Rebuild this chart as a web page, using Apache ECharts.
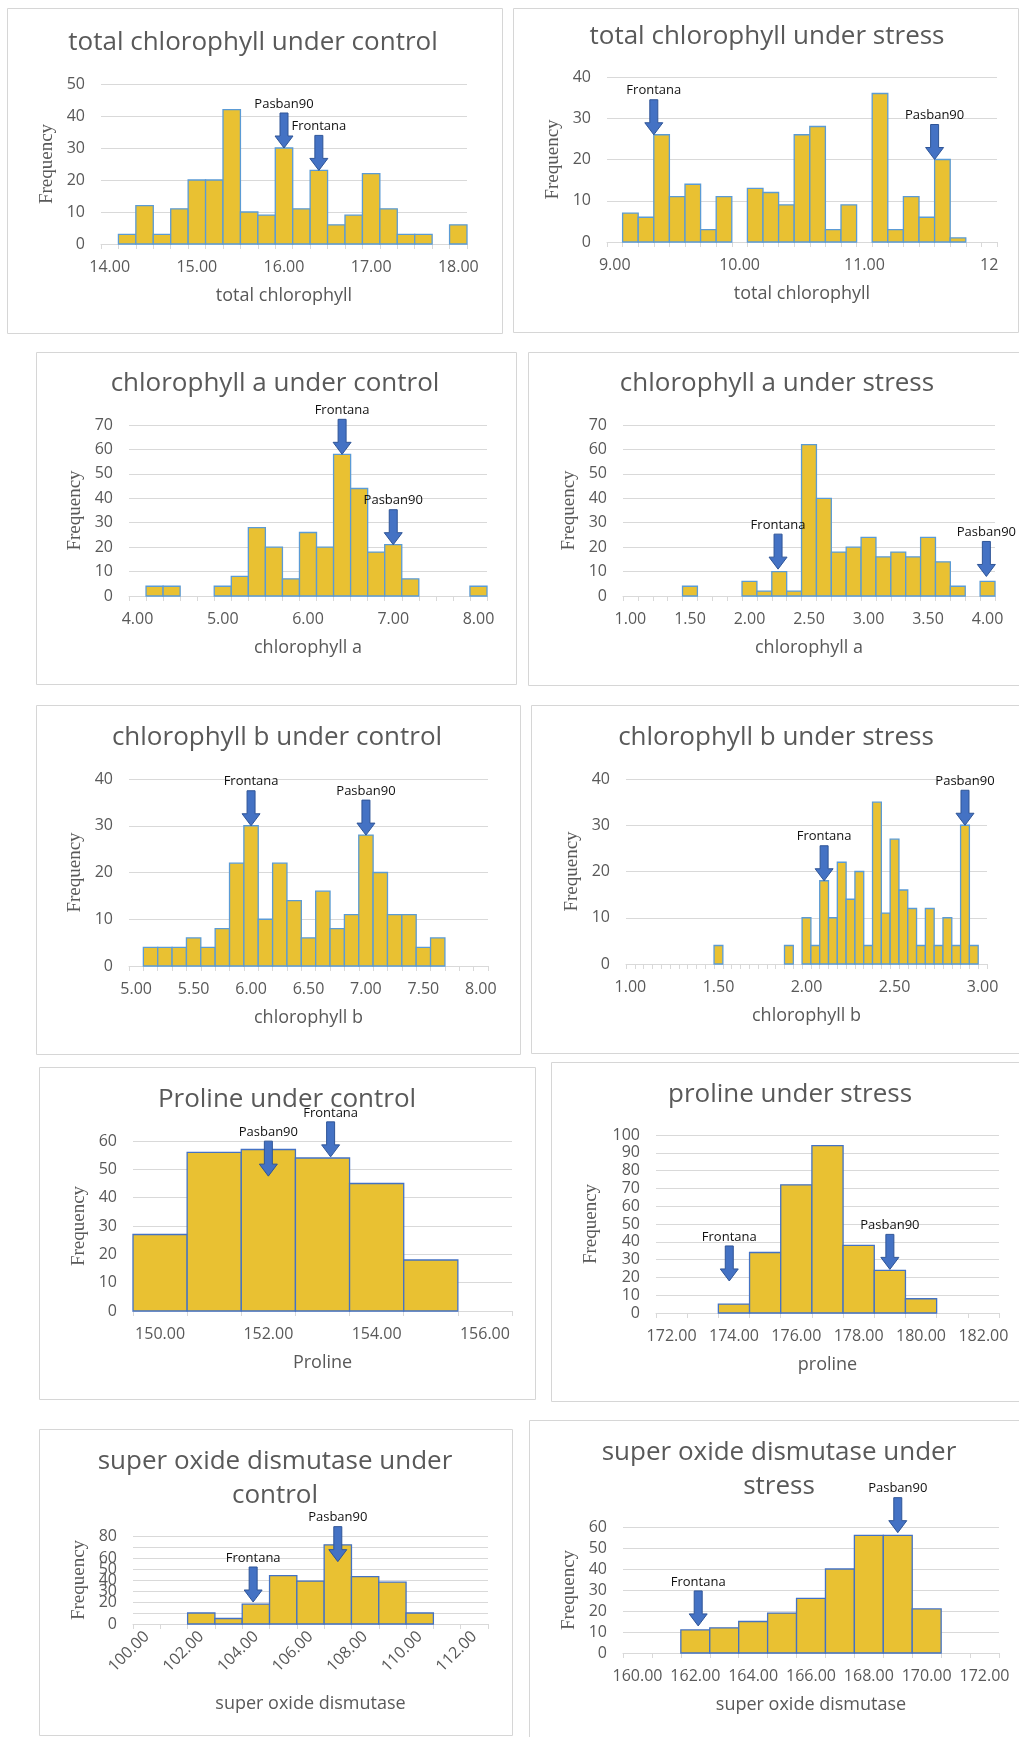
<!DOCTYPE html>
<html>
<head>
<meta charset="utf-8">
<script src="https://cdn.jsdelivr.net/npm/echarts@6/dist/echarts.min.js"></script>
<style>
  html, body { margin: 0; padding: 0; background: #fff; }
  #chart { width: 1019px; height: 1737px; }
</style>
</head>
<body>
<div id="chart"></div>
<script>
// ---- data: histogram counts per bin ----
const tcControlCounts = [3, 12, 3, 11, 20, 20, 42, 10, 9, 30, 11, 23, 6, 9, 22, 11, 3, 3, 0, 6];
const tcControlTicks = ['14.00', '15.00', '16.00', '17.00', '18.00'];
const tcControlMarks = [['Pasban90', 16.0, 30], ['Frontana', 16.4, 23]];

const tcStressCounts = [7, 6, 26, 11, 14, 3, 11, 0, 13, 12, 9, 26, 28, 3, 9, 0, 36, 3, 11, 6, 20, 1];
const tcStressTicks = ['9.00', '10.00', '11.00', '12'];
const tcStressMarks = [['Frontana', 9.3125, 26], ['Pasban90', 11.5625, 20]];

const caControlCounts = [4, 4, 0, 0, 4, 8, 28, 20, 7, 26, 20, 58, 44, 18, 21, 7, 0, 0, 0, 4];
const caControlTicks = ['4.00', '5.00', '6.00', '7.00', '8.00'];
const caControlMarks = [['Frontana', 6.4, 58], ['Pasban90', 7.0, 21]];

const caStressCounts = [0, 0, 0, 4, 0, 0, 0, 6, 2, 10, 2, 62, 40, 18, 20, 24, 16, 18, 16, 24, 14, 4, 0, 6];
const caStressTicks = ['1.00', '1.50', '2.00', '2.50', '3.00', '3.50', '4.00'];
const caStressMarks = [['Frontana', 2.24, 11], ['Pasban90', 3.99, 8]];

const cbControlCounts = [4, 4, 4, 6, 4, 8, 22, 30, 10, 22, 14, 6, 16, 8, 11, 28, 20, 11, 11, 4, 6];
const cbControlTicks = ['5.00', '5.50', '6.00', '6.50', '7.00', '7.50', '8.00'];
const cbControlMarks = [['Frontana', 6.0, 30], ['Pasban90', 7.0, 28]];

const cbStressCounts = [4, 0, 0, 0, 0, 0, 0, 0, 4, 0, 10, 4, 18, 10, 22, 14, 20, 4, 35, 11, 27, 16, 12, 4, 12, 4, 10, 4, 30, 4];
const cbStressTicks = ['1.00', '1.50', '2.00', '2.50', '3.00'];
const cbStressMarks = [['Frontana', 2.1, 18], ['Pasban90', 2.9, 30]];

const prControlCounts = [27, 56, 57, 54, 45, 18];
const prControlTicks = ['150.00', '152.00', '154.00', '156.00'];
const prControlMarks = [['Pasban90', 152.0, 47.6], ['Frontana', 153.15, 54.4]];

const prStressCounts = [5, 34, 72, 94, 38, 24, 8];
const prStressTicks = ['172.00', '174.00', '176.00', '178.00', '180.00', '182.00'];
const prStressMarks = [['Frontana', 173.85, 18], ['Pasban90', 179.0, 24.5]];

const sodControlCounts = [10, 5, 18, 44, 39, 72, 43, 38, 10];
const sodControlTicks = ['100.00', '102.00', '104.00', '106.00', '108.00', '110.00', '112.00'];
const sodControlMarks = [['Frontana', 103.9, 20], ['Pasban90', 107.0, 56.7]];

const sodStressCounts = [11, 12, 15, 19, 26, 40, 56, 56, 21];
const sodStressTicks = ['160.00', '162.00', '164.00', '166.00', '168.00', '170.00', '172.00'];
const sodStressMarks = [['Frontana', 162.1, 12.9], ['Pasban90', 169.0, 57.3]];

// ---- panel layout (page pixels) ----
const LIGHT = '#5B9BD5', DARK = '#4472C4';
const panels = [
  { title: ['total chlorophyll under control'], tc: [253, 43], box: [7, 8, 502, 333], grid: [101, 84, 467, 244],
    xMin: 13.9, xMax: 18.1, binStart: 14.1, binWidth: 0.2, yMax: 50, counts: tcControlCounts, ticks: tcControlTicks,
    marks: tcControlMarks, xName: 'total chlorophyll', edge: LIGHT },
  { title: ['total chlorophyll under stress'], tc: [767, 37], box: [513, 8, 1018, 332], grid: [607, 77, 997, 242],
    xMin: 8.9375, xMax: 12.0625, binStart: 9.0625, binWidth: 0.125, yMax: 40, counts: tcStressCounts, ticks: tcStressTicks,
    marks: tcStressMarks, xName: 'total chlorophyll', edge: LIGHT },
  { title: ['chlorophyll a under control'], tc: [275, 384], box: [36, 352, 516, 684], grid: [129, 425, 487, 596],
    xMin: 3.9, xMax: 8.1, binStart: 4.1, binWidth: 0.2, yMax: 70, counts: caControlCounts, ticks: caControlTicks,
    marks: caControlMarks, xName: 'chlorophyll a', edge: LIGHT },
  { title: ['chlorophyll a under stress'], tc: [777, 384], box: [528, 352, 1030, 685], grid: [623, 425, 995, 596],
    xMin: 0.9375, xMax: 4.0625, binStart: 1.0625, binWidth: 0.125, yMax: 70, counts: caStressCounts, ticks: caStressTicks,
    marks: caStressMarks, xName: 'chlorophyll a', edge: LIGHT },
  { title: ['chlorophyll b under control'], tc: [277, 738], box: [36, 705, 520, 1054], grid: [129, 779, 488, 966],
    xMin: 4.9375, xMax: 8.0625, binStart: 5.0625, binWidth: 0.125, yMax: 40, counts: cbControlCounts, ticks: cbControlTicks,
    marks: cbControlMarks, xName: 'chlorophyll b', edge: LIGHT },
  { title: ['chlorophyll b under stress'], tc: [776, 738], box: [531, 705, 1030, 1053], grid: [626, 779, 987, 964],
    xMin: 0.975, xMax: 3.025, binStart: 1.475, binWidth: 0.05, yMax: 40, counts: cbStressCounts, ticks: cbStressTicks,
    marks: cbStressMarks, xName: 'chlorophyll b', edge: LIGHT },
  { title: ['Proline under control'], tc: [287, 1100], box: [39, 1067, 535, 1399], grid: [133, 1141, 512, 1311],
    xMin: 149.5, xMax: 156.5, binStart: 149.5, binWidth: 1, yMax: 60, counts: prControlCounts, ticks: prControlTicks,
    marks: prControlMarks, xName: 'Proline', edge: DARK },
  { title: ['proline under stress'], tc: [790, 1095], box: [551, 1062, 1030, 1401], grid: [656, 1135, 999, 1313],
    xMin: 171.5, xMax: 182.5, binStart: 173.5, binWidth: 1, yMax: 100, counts: prStressCounts, ticks: prStressTicks,
    marks: prStressMarks, xName: 'proline', edge: DARK, yGap: 55 },
  { title: ['super oxide dismutase under', 'control'], tc: [275, 1462], box: [39, 1429, 512, 1735], grid: [133, 1536, 488, 1624],
    xMin: 99.5, xMax: 112.5, binStart: 101.5, binWidth: 1, yMax: 80, counts: sodControlCounts, ticks: sodControlTicks,
    marks: sodControlMarks, xName: 'super oxide dismutase', edge: DARK, rotate: 45, xGap: 71 },
  { title: ['super oxide dismutase under', 'stress'], tc: [779, 1453], box: [529, 1420, 1030, 1745], grid: [623, 1527, 999, 1653],
    xMin: 159.5, xMax: 172.5, binStart: 161.5, binWidth: 1, yMax: 60, counts: sodStressCounts, ticks: sodStressTicks,
    marks: sodStressMarks, xName: 'super oxide dismutase', edge: DARK }
];

const GRAY = '#595959';
const LINE = '#D9D9D9';
const FILL = '#E9C132';
const FONT = "'Open Sans', sans-serif";

const grids = [], xAxes = [], yAxes = [], series = [], graphics = [];

panels.forEach((p, i) => {
  const [gl, gt, gr, gb] = p.grid;
  grids.push({ left: gl, top: gt, width: gr - gl, height: gb - gt, containLabel: false, outerBoundsMode: 'none' });

  const edges = [];
  for (let k = 0; ; k++) {
    const v = +(p.xMin + k * p.binWidth).toFixed(6);
    if (v > p.xMax + 1e-9) break;
    edges.push(v);
  }
  const ticks = p.ticks;
  xAxes.push({
    type: 'value', gridIndex: i, min: p.xMin, max: p.xMax,
    name: p.xName, nameLocation: 'middle', nameGap: p.xGap || 43,
    nameTextStyle: { color: GRAY, fontSize: 18, fontFamily: FONT },
    axisLine: { show: true, lineStyle: { color: LINE, width: 1 } },
    axisTick: { show: true, length: 5, lineStyle: { color: LINE }, customValues: edges },
    axisLabel: {
      customValues: ticks.map(Number), color: GRAY, fontSize: 16, fontFamily: FONT,
      margin: p.rotate ? 10 : 15, rotate: p.rotate || 0,
      showMinLabel: true, showMaxLabel: true, hideOverlap: false,
      formatter: v => ticks.find(t => Math.abs(Number(t) - v) < 1e-9) || ''
    },
    splitLine: { show: false }
  });
  yAxes.push({
    type: 'value', gridIndex: i, min: 0, max: p.yMax, interval: 10,
    name: 'Frequency', nameLocation: 'middle', nameGap: p.yGap || 44,
    nameTextStyle: { color: GRAY, fontSize: 19, fontFamily: "'Liberation Serif', serif" },
    axisLine: { show: false }, axisTick: { show: false },
    axisLabel: { color: GRAY, fontSize: 16, fontFamily: FONT, margin: 16,
                 showMinLabel: true, showMaxLabel: true, hideOverlap: false },
    splitLine: { show: true, lineStyle: { color: LINE, width: 1 } }
  });

  const bins = p.counts.map((c, k) => {
    const lo = +(p.binStart + k * p.binWidth).toFixed(6);
    return [lo, +(lo + p.binWidth).toFixed(6), c];
  });
  series.push({
    type: 'custom', xAxisIndex: i, yAxisIndex: i, data: bins, silent: true,
    encode: { x: [0, 1], y: 2 },
    renderItem: (params, api) => {
      if (!api.value(2)) return null;
      const a = api.coord([api.value(0), api.value(2)]);
      const b = api.coord([api.value(1), 0]);
      return {
        type: 'rect',
        shape: { x: a[0], y: a[1], width: b[0] - a[0], height: b[1] - a[1] },
        style: { fill: FILL, stroke: p.edge, lineWidth: 1.3 }
      };
    },
    z: 2
  });

  series.push({
    type: 'custom', xAxisIndex: i, yAxisIndex: i, silent: true,
    data: p.marks.map(m => [m[1], m[2], m[0]]),
    encode: { x: 0, y: 1 },
    renderItem: (params, api) => {
      const t = api.coord([api.value(0), api.value(1)]);
      const x = t[0], y = t[1];
      return {
        type: 'group',
        children: [
          { type: 'polygon',
            shape: { points: [[x - 4, y - 35], [x + 4, y - 35], [x + 4, y - 12], [x + 9, y - 12], [x, y], [x - 9, y - 12], [x - 4, y - 12]] },
            style: { fill: '#4472C4', stroke: '#2F5597', lineWidth: 1 } },
          { type: 'text',
            style: { x: x, y: y - 44, text: api.value(2), fill: '#111', fontSize: 13, fontFamily: FONT,
                     align: 'center', verticalAlign: 'middle' } }
        ]
      };
    },
    z: 5
  });

  const [x0, y0, x1, y1] = p.box;
  graphics.push({
    type: 'rect', shape: { x: x0 + 0.5, y: y0 + 0.5, width: x1 - x0, height: y1 - y0 },
    style: { fill: 'none', stroke: '#D6D6D6', lineWidth: 1 }, silent: true, z: -10
  });
  p.title.forEach((line, j) => {
    graphics.push({
      type: 'text', x: p.tc[0], y: p.tc[1] + j * 34, silent: true,
      style: { text: line, fill: GRAY, fontSize: 26, fontFamily: FONT, align: 'center', verticalAlign: 'middle' }
    });
  });
});

const chart = echarts.init(document.getElementById('chart'), null, { renderer: 'canvas' });
chart.setOption({
  animation: false,
  backgroundColor: '#fff',
  grid: grids,
  xAxis: xAxes,
  yAxis: yAxes,
  series: series,
  graphic: graphics
});
</script>
</body>
</html>
